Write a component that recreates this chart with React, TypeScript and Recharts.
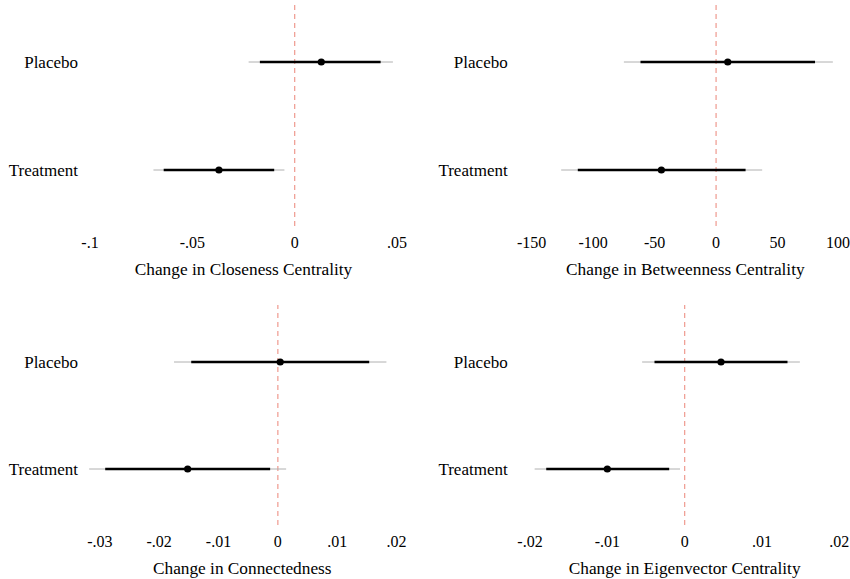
import { ComposedChart, Scatter, ErrorBar, XAxis, YAxis, ReferenceLine } from "recharts";

const GROUPS = ["Placebo", "Treatment"];

const CLOSENESS_EST = [0.013, -0.037];
const CLOSENESS_LO95 = [-0.0225, -0.069];
const CLOSENESS_HI95 = [0.048, -0.005];
const CLOSENESS_LO90 = [-0.017, -0.064];
const CLOSENESS_HI90 = [0.042, -0.01];
const CLOSENESS_TICKS = [-0.1, -0.05, 0, 0.05];

const BETWEENNESS_EST = [9.5, -44.5];
const BETWEENNESS_LO95 = [-75, -126];
const BETWEENNESS_HI95 = [95, 37.5];
const BETWEENNESS_LO90 = [-61.5, -112.5];
const BETWEENNESS_HI90 = [80.5, 24];
const BETWEENNESS_TICKS = [-150, -100, -50, 0, 50, 100];

const CONNECTED_EST = [0.0004, -0.0152];
const CONNECTED_LO95 = [-0.0175, -0.0318];
const CONNECTED_HI95 = [0.0183, 0.0014];
const CONNECTED_LO90 = [-0.0146, -0.0291];
const CONNECTED_HI90 = [0.0154, -0.0013];
const CONNECTED_TICKS = [-0.03, -0.02, -0.01, 0, 0.01, 0.02];

const EIGEN_EST = [0.0047, -0.01];
const EIGEN_LO95 = [-0.0055, -0.0194];
const EIGEN_HI95 = [0.0149, -0.0006];
const EIGEN_LO90 = [-0.0039, -0.0179];
const EIGEN_HI90 = [0.0133, -0.002];
const EIGEN_TICKS = [-0.02, -0.01, 0, 0.01, 0.02];

const FONT = "'Liberation Serif', 'Times New Roman', serif";

// error bar deltas, as ErrorBar wants them
const makeRows = (est: number[], lo95: number[], hi95: number[], lo90: number[], hi90: number[]) =>
  GROUPS.map((name, i) => ({
    name,
    est: est[i],
    e95: [est[i] - lo95[i], hi95[i] - est[i]],
    e90: [est[i] - lo90[i], hi90[i] - est[i]],
  }));

const fmt = (v: number) => (v === 0 ? "0" : String(v).replace("0.", "."));

const Dot = (props: any) => <circle cx={props.cx} cy={props.cy} r={3.6} fill="#000" />;

type PanelProps = {
  rows: any[];
  ticks: number[];
  domain?: [number, number];
  title: string;
  left: number;
  top: number;
  h: number;
  x0: number;
  x1: number;
  y0: number;
  y1: number;
  padTop: number;
  padBottom: number;
  labelEnd: number;
};

const W = 425;
const XH = 30;

const Panel = ({ rows, ticks, domain, title, left, top, h, x0, x1, y0, y1, padTop, padBottom, labelEnd }: PanelProps) => (
  <div style={{ position: "absolute", left, top, width: W, height: h }}>
    <ComposedChart
      width={W}
      height={h}
      data={rows}
      layout="vertical"
      margin={{ top: y0 - top, right: left + W - x1, left: 0, bottom: h - (y1 - top) - XH }}
    >
      <XAxis
        type="number"
        dataKey="est"
        domain={domain ?? [ticks[0], ticks[ticks.length - 1]]}
        ticks={ticks}
        tickFormatter={fmt}
        axisLine={false}
        tickLine={false}
        tickSize={0}
        tickMargin={11}
        height={XH}
        tick={{ fill: "#000", fontSize: 16 }}
        label={{ value: title, position: "bottom", offset: 7, fill: "#000", fontSize: 17.3 }}
      />
      <YAxis
        type="category"
        dataKey="name"
        width={x0 - left}
        padding={{ top: padTop, bottom: padBottom }}
        axisLine={false}
        tickLine={false}
        tickSize={0}
        tickMargin={x0 - labelEnd}
        tick={{ fill: "#000", fontSize: 17 }}
      />
      <ReferenceLine x={0} stroke="#f0a197" strokeDasharray="5 4" strokeWidth={1.3} />
      <Scatter dataKey="est" shape={Dot} isAnimationActive={false}>
        <ErrorBar dataKey="e95" direction="x" width={0} stroke="#b0b0b0" strokeWidth={1} />
        <ErrorBar dataKey="e90" direction="x" width={0} stroke="#000" strokeWidth={2.6} />
      </Scatter>
    </ComposedChart>
  </div>
);

export default function App() {
  return (
    <div style={{ position: "absolute", left: 0, top: 0, width: 850, height: 579, background: "#fff", fontFamily: FONT }}>
      <Panel
        rows={makeRows(CLOSENESS_EST, CLOSENESS_LO95, CLOSENESS_HI95, CLOSENESS_LO90, CLOSENESS_HI90)}
        ticks={CLOSENESS_TICKS}
        title="Change in Closeness Centrality"
        left={0} top={0} h={289} x0={90} x1={397} y0={5} y1={226} padTop={57} padBottom={56} labelEnd={78}
      />
      <Panel
        rows={makeRows(BETWEENNESS_EST, BETWEENNESS_LO95, BETWEENNESS_HI95, BETWEENNESS_LO90, BETWEENNESS_HI90)}
        ticks={BETWEENNESS_TICKS}
        title="Change in Betweenness Centrality"
        left={425} top={0} h={289} x0={531.7} x1={839} y0={5} y1={226} padTop={57} padBottom={56} labelEnd={507.7}
      />
      <Panel
        rows={makeRows(CONNECTED_EST, CONNECTED_LO95, CONNECTED_HI95, CONNECTED_LO90, CONNECTED_HI90)}
        ticks={CONNECTED_TICKS}
        domain={[-0.032, 0.02]}
        title="Change in Connectedness"
        left={0} top={289} h={290} x0={88} x1={396.5} y0={305} y1={525} padTop={57} padBottom={56} labelEnd={78}
      />
      <Panel
        rows={makeRows(EIGEN_EST, EIGEN_LO95, EIGEN_HI95, EIGEN_LO90, EIGEN_HI90)}
        ticks={EIGEN_TICKS}
        title="Change in Eigenvector Centrality"
        left={425} top={289} h={290} x0={530} x1={839.3} y0={305} y1={525} padTop={57} padBottom={56} labelEnd={507.7}
      />
    </div>
  );
}
